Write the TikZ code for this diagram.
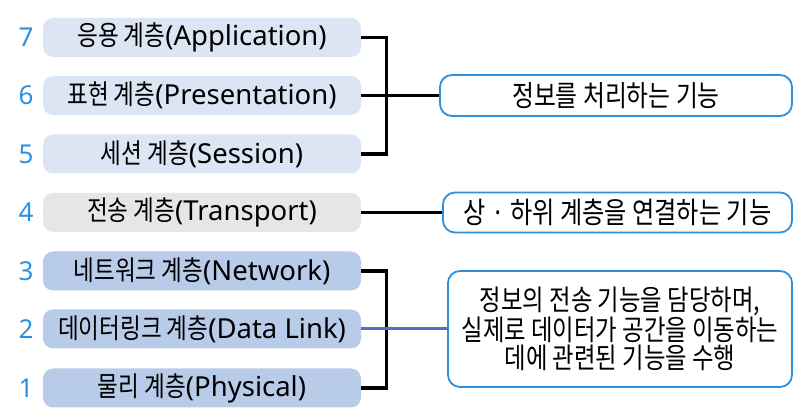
\documentclass[tikz,border=0pt]{standalone}
\usepackage{fontspec}
\setmainfont{Noto Sans}
\newfontfamily\kr{Noto Sans CJK KR}[FakeStretch=0.82]
\definecolor{upperfill}{HTML}{DCE5F4}
\definecolor{midfill}{HTML}{E6E6E6}
\definecolor{lowerfill}{HTML}{B8CCE9}
\definecolor{numblue}{HTML}{2A90E0}
\definecolor{rimblue}{HTML}{2E8FDD}
\definecolor{linkblue}{HTML}{4A72C0}
\begin{document}
\begin{tikzpicture}[x=1pt, y=-1pt,
    layer/.style={rounded corners=10pt, minimum width=318pt, minimum height=39pt, inner sep=0pt,
        font=\fontsize{27.5}{30}\selectfont},
    num/.style={text=numblue, font=\fontsize{26}{30}\selectfont},
    role/.style={draw=rimblue, line width=1.8pt, rounded corners=12pt, fill=white, inner sep=0pt,
        align=center},
    bracket/.style={line width=3.2pt},
    link/.style={line width=3pt, draw=linkblue}]
        \useasboundingbox (0,0) rectangle (804,419);

        \node [layer, fill=upperfill] (l7) at (202,37.5) {{\kr 응용 계층}(Application)};
        \node [layer, fill=upperfill] (l6) at (202,95.5) {{\kr 표현 계층}(Presentation)};
        \node [layer, fill=upperfill] (l5) at (202,154) {{\kr 세션 계층}(Session)};
        \node [layer, fill=midfill] (l4) at (202,212.5) {{\kr 전송 계층}(Transport)};
        \node [layer, fill=lowerfill] (l3) at (202,271) {{\kr 네트워크 계층}(Network)};
        \node [layer, fill=lowerfill] (l2) at (202,329) {{\kr 데이터링크 계층}(Data Link)};
        \node [layer, fill=lowerfill] (l1) at (202,388) {{\kr 물리 계층}(Physical)};

        \node [num] (n7) at (26,37.5) {7};
        \node [num] (n6) at (26,95.5) {6};
        \node [num] (n5) at (26,154) {5};
        \node [num] (n4) at (26,212.5) {4};
        \node [num] (n3) at (26,271) {3};
        \node [num] (n2) at (26,329) {2};
        \node [num] (n1) at (26,388) {1};

        \node [role, minimum width=352pt, minimum height=41pt, font=\kr\fontsize{29}{33}\selectfont]
            (f1) at (616,95.5) {정보를 처리하는 기능};
        \node [role, minimum width=349pt, minimum height=40pt, font=\kr\fontsize{29.5}{33}\selectfont]
            (f2) at (617.5,212.5) {상 · 하위 계층을 연결하는 기능};
        \node [role, minimum width=344pt, minimum height=116pt, font=\kr\fontsize{28.5}{28}\selectfont]
            (f3) at (620,329) {정보의 전송 기능을 담당하며,\\
             실제로 데이터가 공간을 이동하는\\ 데에 관련된 기능을 수행};

        \draw [bracket] (l7.east) -- ++(25,0) |- (l5.east);
        \draw [bracket] (l6.east) -- (f1.west);
        \draw [bracket] (l4.east) -- (f2.west);
        \draw [bracket] (l3.east) -- ++(25,0) |- (l1.east);
        \draw [link] (l2.east) -- (f3.west);
\end{tikzpicture}
\end{document}
